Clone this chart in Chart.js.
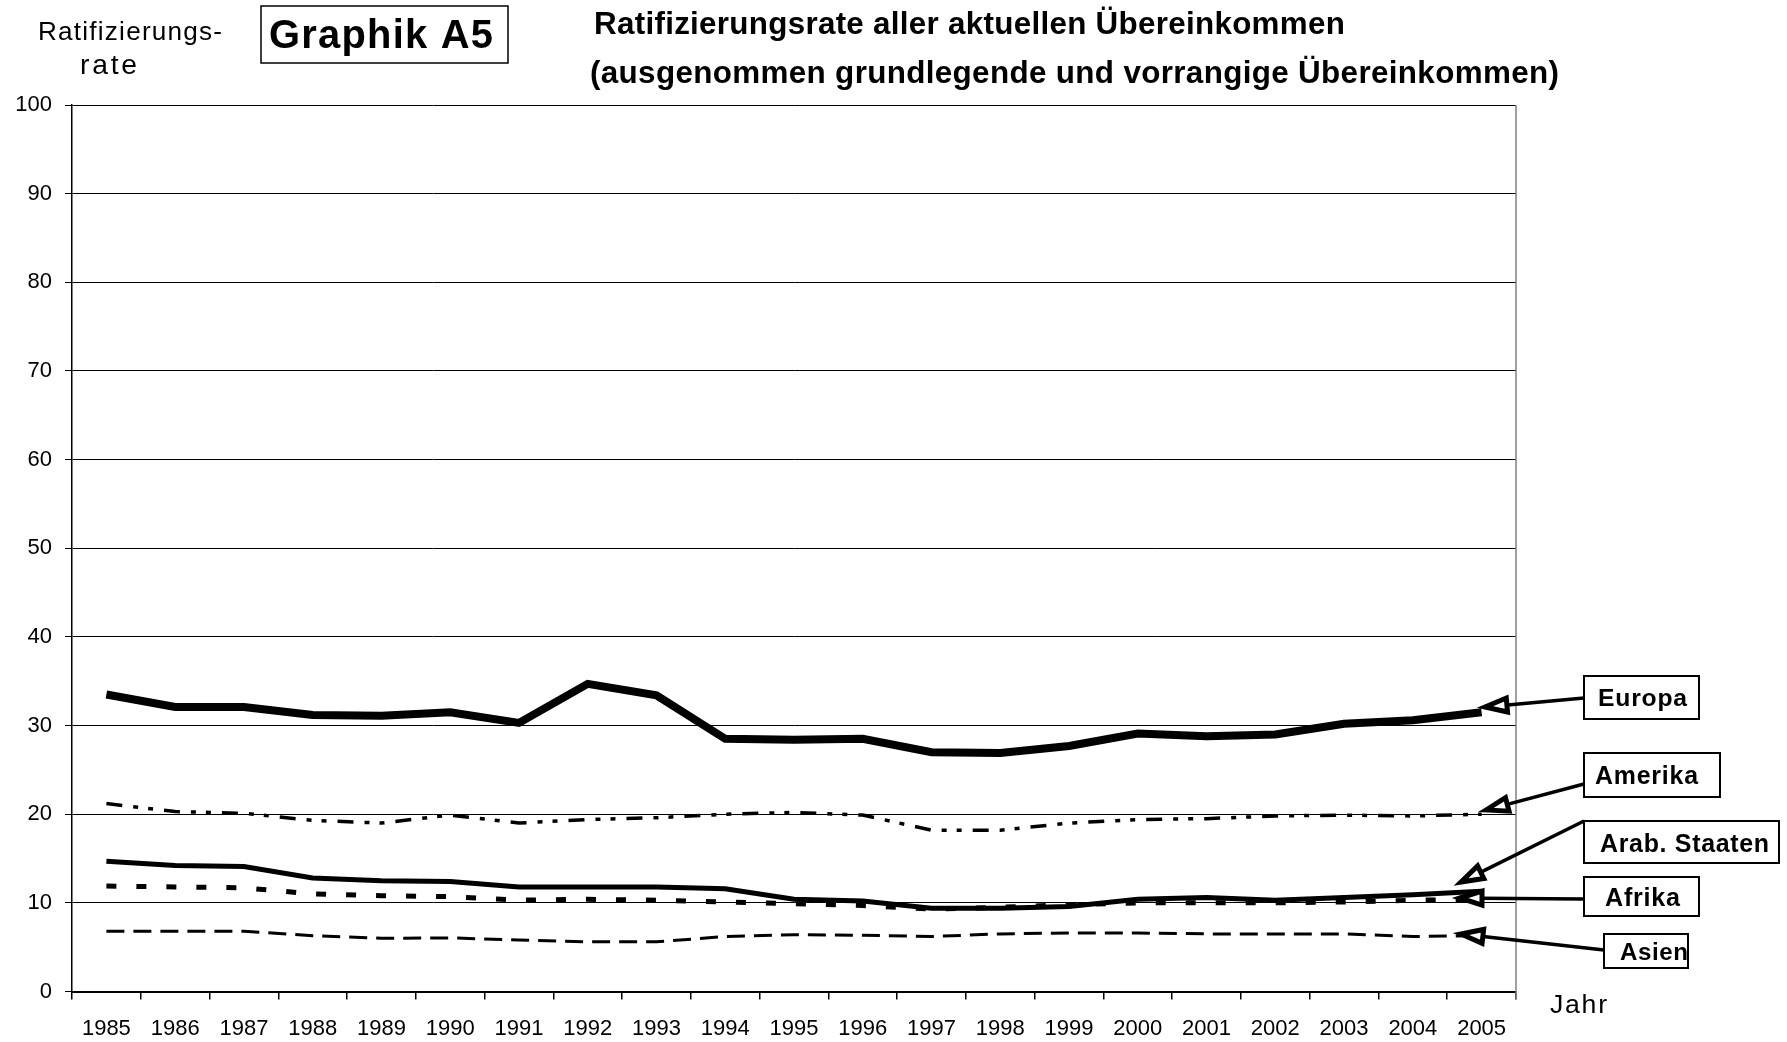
<!DOCTYPE html>
<html>
<head>
<meta charset="utf-8">
<script src="https://cdn.jsdelivr.net/npm/chart.js@4.4.1/dist/chart.umd.min.js"></script>
<style>
html,body{margin:0;padding:0;background:#fff;}
#wrap{width:1787px;height:1042px;position:relative;}
</style>
</head>
<body>
<div id="wrap"><canvas id="c" width="1787" height="1042"></canvas></div>
<script>
const years = ['1985','1986','1987','1988','1989','1990','1991','1992','1993','1994','1995','1996','1997','1998','1999','2000','2001','2002','2003','2004','2005'];
const yTicks = [0,10,20,30,40,50,60,70,80,90,100];
const europa   = [33.5,32.1,32.1,31.2,31.1,31.5,30.3,34.7,33.4,28.5,28.4,28.5,27.0,26.9,27.7,29.1,28.8,29.0,30.2,30.6,31.5];
const amerika  = [21.2,20.3,20.1,19.3,19.0,19.9,19.0,19.4,19.6,20.0,20.2,19.9,18.2,18.2,19.0,19.4,19.5,19.8,19.9,19.8,20.0];
const arab     = [14.7,14.2,14.1,12.8,12.5,12.4,11.8,11.8,11.8,11.6,10.4,10.2,9.4,9.4,9.6,10.4,10.6,10.3,10.6,10.9,11.3];
const afrika   = [11.9,11.8,11.7,11.0,10.8,10.7,10.3,10.4,10.3,10.1,9.9,9.7,9.3,9.5,9.8,10.0,10.0,10.0,10.1,10.3,10.4];
const asien    = [6.8,6.8,6.8,6.3,6.0,6.05,5.8,5.6,5.6,6.2,6.4,6.35,6.2,6.5,6.6,6.6,6.5,6.5,6.5,6.2,6.3];
const seriesNames = ['Europa','Amerika','Arab. Staaten','Afrika','Asien'];
const titleLines = ['Ratifizierungsrate aller aktuellen Übereinkommen','(ausgenommen grundlegende und vorrangige Übereinkommen)'];
const boxTitle = 'Graphik A5';
const yAxisTitle = ['Ratifizierungs-','rate'];
const xAxisTitle = 'Jahr';

const FONT = '"Liberation Sans", Arial, Helvetica, sans-serif';

function fitText(ctx, text, x, y, weight, sizeH, width, mix) {
  const m = (mix === undefined) ? 0.5 : mix;
  ctx.save();
  ctx.textAlign = 'left';
  ctx.textBaseline = 'alphabetic';
  ctx.font = weight + ' ' + sizeH + 'px ' + FONT;
  const w0 = ctx.measureText(text).width;
  const sizeW = sizeH * width / w0;
  const size = sizeH * (1 - m) + sizeW * m;
  ctx.font = weight + ' ' + size.toFixed(2) + 'px ' + FONT;
  const w = ctx.measureText(text).width;
  if ('letterSpacing' in ctx && text.length > 1) {
    ctx.letterSpacing = ((width - w) / (text.length - 1)).toFixed(2) + 'px';
    ctx.fillText(text, x, y);
  } else {
    ctx.translate(x, y);
    ctx.scale(width / w, 1);
    ctx.fillText(text, 0, 0);
  }
  ctx.restore();
}

function arrow(ctx, x1, y1, x2, y2) {
  const ang = Math.atan2(y2 - y1, x2 - x1);
  const L = 22, H = 7;
  const bx = x2 - L * Math.cos(ang), by = y2 - L * Math.sin(ang);
  ctx.save();
  ctx.strokeStyle = '#000';
  ctx.lineWidth = 3.5;
  ctx.beginPath();
  ctx.moveTo(x1, y1);
  ctx.lineTo(bx + 2 * Math.cos(ang), by + 2 * Math.sin(ang));
  ctx.stroke();
  ctx.beginPath();
  ctx.moveTo(x2, y2);
  ctx.lineTo(bx - H * Math.sin(ang), by + H * Math.cos(ang));
  ctx.lineTo(bx + H * Math.sin(ang), by - H * Math.cos(ang));
  ctx.closePath();
  ctx.fillStyle = '#fff';
  ctx.fill();
  ctx.lineWidth = 5;
  ctx.lineJoin = 'miter';
  ctx.stroke();
  ctx.restore();
}

function labelBox(ctx, text, bx, by, bw, bh, tx, ty, tw) {
  ctx.save();
  ctx.fillStyle = '#fff';
  ctx.fillRect(bx, by, bw, bh);
  ctx.strokeStyle = '#000';
  ctx.lineWidth = 2;
  ctx.strokeRect(bx, by, bw, bh);
  ctx.fillStyle = '#000';
  fitText(ctx, text, tx, ty, 'bold', 22, tw, 0.7);
  ctx.restore();
}

const deco = {
  id: 'deco',
  afterDraw(chart) {
    const ctx = chart.ctx;
    const a = chart.chartArea;
    ctx.save();
    // right border
    ctx.strokeStyle = '#808080';
    ctx.lineWidth = 1.5;
    ctx.beginPath();
    ctx.moveTo(a.right, a.top);
    ctx.lineTo(a.right, a.bottom + 8);
    ctx.stroke();
    ctx.fillStyle = '#000';
    // titles
    fitText(ctx, titleLines[0], 594, 34, 'bold', 30, 751, 0.7);
    fitText(ctx, titleLines[1], 590, 83, 'bold', 30, 969, 0.7);
    // Graphik box
    ctx.strokeStyle = '#000';
    ctx.lineWidth = 1.5;
    ctx.strokeRect(261, 6, 247, 57);
    fitText(ctx, boxTitle, 269, 48, 'bold', 35, 224, 0.7);
    // y axis title
    fitText(ctx, yAxisTitle[0], 38, 40, 'normal', 23.5, 184);
    fitText(ctx, yAxisTitle[1], 80, 74, 'normal', 23.5, 57);
    // x axis title
    fitText(ctx, xAxisTitle, 1550, 1013, 'normal', 24, 57);
    // arrows
    arrow(ctx, 1584, 698, 1485, 707);
    arrow(ctx, 1584, 784, 1486, 810);
    arrow(ctx, 1584, 821, 1461, 882);
    arrow(ctx, 1584, 899, 1460, 898);
    arrow(ctx, 1604, 950, 1461, 934);
    // label boxes
    labelBox(ctx, seriesNames[0], 1584, 676, 115, 43, 1598, 706, 89);
    labelBox(ctx, seriesNames[1], 1584, 753, 136, 44, 1595, 784, 103);
    labelBox(ctx, seriesNames[2], 1584, 821, 195, 42, 1600, 852, 169);
    labelBox(ctx, seriesNames[3], 1584, 877, 115, 39, 1605, 906, 75);
    // Asien: text overlaps right edge of box
    ctx.fillStyle = '#fff';
    ctx.fillRect(1604, 934, 84, 34);
    ctx.strokeStyle = '#000';
    ctx.lineWidth = 2;
    ctx.strokeRect(1604, 934, 84, 34);
    ctx.fillStyle = '#000';
    fitText(ctx, seriesNames[4], 1620, 960, 'bold', 22, 68, 0.7);
    ctx.restore();
  }
};

const ds = (label, data, w, dash) => ({
  label, data,
  borderColor: '#000', backgroundColor: '#000',
  borderWidth: w, borderDash: dash,
  pointRadius: 0, pointHoverRadius: 0,
  tension: 0, fill: false,
  borderCapStyle: 'butt', borderJoinStyle: 'miter'
});

new Chart(document.getElementById('c'), {
  type: 'line',
  data: {
    labels: years,
    datasets: [
      ds(seriesNames[4], asien, 3, [18, 9]),
      ds(seriesNames[3], afrika, 5, [10, 20]),
      ds(seriesNames[2], arab, 5, []),
      ds(seriesNames[1], amerika, 3.5, [16, 11, 5, 10, 5, 11]),
      ds(seriesNames[0], europa, 8, [])
    ]
  },
  options: {
    responsive: false,
    animation: false,
    devicePixelRatio: 1,
    layout: { padding: { top: 105, right: 271, left: 0, bottom: 0 } },
    plugins: { legend: { display: false }, tooltip: { enabled: false }, title: { display: false } },
    scales: {
      x: {
        type: 'category',
        offset: true,
        grid: { display: true, drawOnChartArea: false, drawTicks: true, tickLength: 8, color: '#000', lineWidth: 1.5, offset: true },
        border: { display: true, color: '#000', width: 2 },
        ticks: { color: '#000', font: { family: FONT, size: 22 }, padding: 16, maxRotation: 0, autoSkip: false },
        afterFit(s) { s.height = 50.5; }
      },
      y: {
        min: 0, max: 100,
        afterBuildTicks(s) { s.ticks = yTicks.map(v => ({ value: v })); },
        grid: { color: '#000', lineWidth: 1, tickLength: 7, drawTicks: true },
        border: { display: true, color: '#000', width: 1.5 },
        ticks: { color: '#000', font: { family: FONT, size: 22 }, padding: 13 },
        afterFit(s) { s.width = 72; }
      }
    }
  },
  plugins: [deco]
});
</script>
</body>
</html>
